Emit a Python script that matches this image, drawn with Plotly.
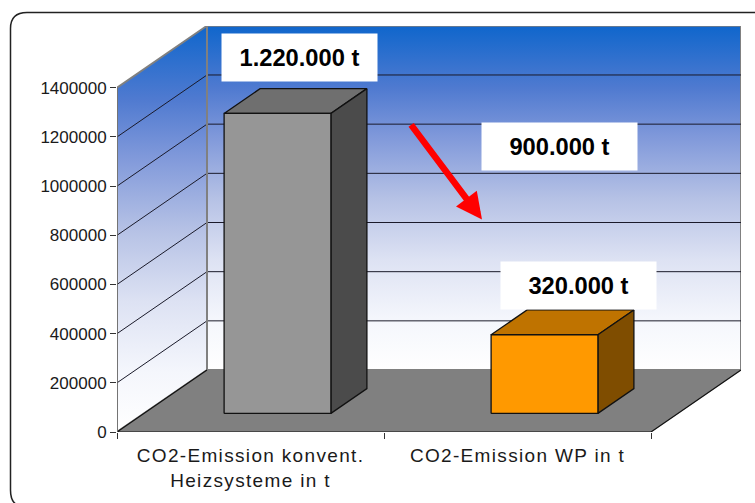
import plotly.graph_objects as go

CATEGORIES = ["CO2-Emission konvent.<br>Heizsysteme in t", "CO2-Emission WP in t"]
VALUES = [1220000, 320000]
FRONT_COLORS = ["#969696", "#FF9900"]
TOP_COLORS = ["#6F6F6F", "#BF7300"]
SIDE_COLORS = ["#4B4B4B", "#7F4D00"]
Y_TICKS = [0, 200000, 400000, 600000, 800000, 1000000, 1200000, 1400000]
BOX_LABELS = ["1.220.000 t", "900.000 t", "320.000 t"]

WALL_SCALE = [
    [0.0, "#FFFFFF"], [0.15, "#F4F6FC"], [0.32, "#DDE2F3"], [0.5, "#B5C1E5"],
    [0.68, "#7F98DA"], [0.82, "#4F7AD0"], [1.0, "#0F66CC"],
]

# pixel geometry of the plot box
PX_LEFT, PX_RIGHT, PX_TOP, PX_BOTTOM = 117, 741, 25.5, 431.7
CAT_W = 267
Y_SCALE = 49.2 / 200000
DEPTH_X = 90 / CAT_W  # category units per unit of depth
DEPTH_Y = 62 / Y_SCALE  # value units per unit of depth
X_MAX = (PX_RIGHT - PX_LEFT) / CAT_W
Y_MAX = (PX_BOTTOM - PX_TOP) / Y_SCALE
TOP_VALUE = Y_TICKS[-1]
BAR_START, BAR_END = 0.3, 0.7


def project(x, y, depth):
    return x + DEPTH_X * depth, y + DEPTH_Y * depth


def polygon(points, **kwargs):
    xs, ys = zip(*[project(*p) for p in points + points[:1]])
    return go.Scatter(x=xs, y=ys, mode="lines", fill="toself", hoverinfo="skip",
                      showlegend=False, cliponaxis=False, **kwargs)


def line(points, color, width=1):
    xs, ys = zip(*[project(*p) for p in points])
    return go.Scatter(x=xs, y=ys, mode="lines", line=dict(color=color, width=width),
                      hoverinfo="skip", showlegend=False, cliponaxis=False)


def paper_x(px):
    return (px - PX_LEFT) / (PX_RIGHT - PX_LEFT)


def paper_y(py):
    return (PX_BOTTOM - py) / (PX_BOTTOM - PX_TOP)


fig = go.Figure()
n = len(CATEGORIES)

# walls and floor
fig.add_trace(polygon(
    [(0, 0, 0), (0, TOP_VALUE, 0), (0, TOP_VALUE, 1), (0, 0, 1)],
    line=dict(color="#808080", width=2),
    fillgradient=dict(type="vertical", colorscale=WALL_SCALE),
))
fig.add_trace(polygon(
    [(0, 0, 1), (0, TOP_VALUE, 1), (n, TOP_VALUE, 1), (n, 0, 1)],
    line=dict(color="#808080", width=2),
    fillgradient=dict(type="vertical", colorscale=WALL_SCALE),
))
fig.add_trace(polygon(
    [(0, 0, 0), (0, 0, 1), (n, 0, 1), (n, 0, 0)],
    line=dict(color="#808080", width=0.5), fillcolor="#808080",
))

# gridlines
for v in Y_TICKS[1:-1]:
    fig.add_trace(line([(0, v, 0), (0, v, 1)], "#1A1A2A", 1))
    fig.add_trace(line([(0, v, 1), (n, v, 1)], "#1A1A2A", 1))
fig.add_trace(line([(0, 0, 1), (0, TOP_VALUE, 1)], "#808080", 2))

# outer edges of floor and axis lines
fig.add_trace(line([(0, 0, 1), (0, 0, 0), (n, 0, 0), (n, 0, 1)], "#111111", 1.2))
fig.add_trace(line([(0, 0, 0), (0, TOP_VALUE, 0)], "#707070", 1.5))

# bars
for i, v in enumerate(VALUES):
    x0, x1 = i + BAR_START, i + BAR_END
    d0, d1 = BAR_START, BAR_END
    edge = dict(color="#111111", width=1.3)
    fig.add_trace(polygon([(x0, v, d0), (x0, v, d1), (x1, v, d1), (x1, v, d0)],
                          line=edge, fillcolor=TOP_COLORS[i]))
    fig.add_trace(polygon([(x1, 0, d0), (x1, v, d0), (x1, v, d1), (x1, 0, d1)],
                          line=edge, fillcolor=SIDE_COLORS[i]))
    fig.add_trace(polygon([(x0, 0, d0), (x0, v, d0), (x1, v, d0), (x1, 0, d0)],
                          line=edge, fillcolor=FRONT_COLORS[i]))

# white labels
for label, (cx, cy) in zip(BOX_LABELS, [(299.5, 57.5), (559.5, 146.5), (578.5, 285.5)]):
    fig.add_annotation(
        text=f"<b>{label}</b>", xref="paper", yref="paper", x=paper_x(cx), y=paper_y(cy),
        xanchor="center", yanchor="middle", showarrow=False, width=155, height=47,
        bgcolor="#FFFFFF", borderpad=0,
        font=dict(family="Liberation Sans", size=23.7, color="#000000"),
    )

# red arrow
fig.add_annotation(
    xref="paper", yref="paper", x=paper_x(482), y=paper_y(219), ax=-72, ay=-96,
    text="", showarrow=True, arrowhead=2, arrowsize=0.8, arrowwidth=6.5, arrowcolor="#FF0000",
)

# frame
frame = (
    f"M {paper_x(756)} {paper_y(12)} L {paper_x(27)} {paper_y(12)} "
    f"Q {paper_x(10.5)} {paper_y(12)} {paper_x(10.5)} {paper_y(28)} "
    f"L {paper_x(10.5)} {paper_y(490)} Q {paper_x(10.5)} {paper_y(502)} {paper_x(18)} {paper_y(505)}"
)
fig.add_shape(type="path", path=frame, xref="paper", yref="paper", line=dict(color="#222222", width=1.5))

fig.update_layout(
    width=755, height=503,
    margin=dict(l=PX_LEFT, r=755 - PX_RIGHT, t=PX_TOP, b=503 - PX_BOTTOM, pad=0),
    paper_bgcolor="#FFFFFF", plot_bgcolor="rgba(0,0,0,0)",
    font=dict(family="Liberation Sans", color="#1A1A1A"),
    showlegend=False,
)
fig.update_xaxes(
    range=[0, X_MAX], showgrid=False, zeroline=False, showline=False,
    tickmode="array", tickvals=[i + 0.5 for i in range(n)], ticktext=CATEGORIES,
    ticks="", tickangle=0, tickfont=dict(size=19), ticklabelstandoff=10,
    minor=dict(tickmode="array", tickvals=list(range(n + 1)), ticks="outside", ticklen=6,
               tickcolor="#333333", tickwidth=1, showgrid=False),
)
fig.update_yaxes(
    range=[0, Y_MAX], showgrid=False, zeroline=False, showline=False,
    tickmode="array", tickvals=Y_TICKS, ticktext=[str(v) for v in Y_TICKS],
    ticks="outside", ticklen=6, tickcolor="#333333", tickwidth=1, tickfont=dict(size=17),
)

page_fix = """
document.body.style.margin = '0';
document.querySelectorAll('.xtick text').forEach(function (t) { t.style.letterSpacing = '1.33px'; });
"""
fig.write_html("out.html", post_script=page_fix, config=dict(displayModeBar=False))
